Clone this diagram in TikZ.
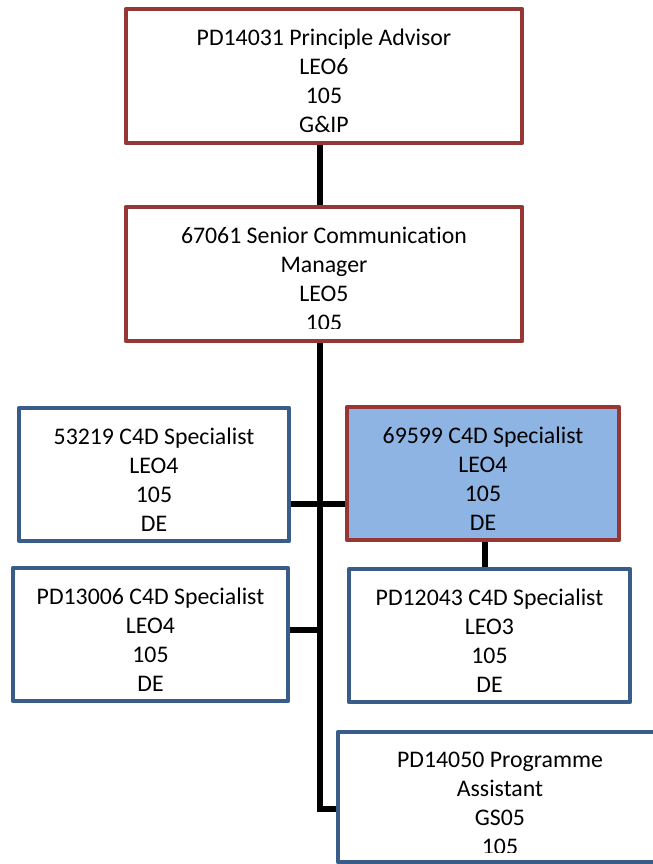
\documentclass[tikz,border=0pt]{standalone}
\usepackage{fontspec}
\setmainfont{Carlito}[Ligatures=NoCommon]
\usetikzlibrary{backgrounds}
\definecolor{boxred}{RGB}{150,55,53}
\definecolor{boxblue}{RGB}{56,93,138}
\definecolor{boxfill}{RGB}{141,180,226}
\tikzset{
  post/.style={draw, line width=4.5bp, fill=white, inner sep=0pt, line join=round},
  redpost/.style={post, draw=boxred},
  bluepost/.style={post, draw=boxblue},
  postlabel/.style={anchor=north, inner sep=0pt, align=center,
    font=\fontsize{23.8bp}{29bp}\selectfont},
  conn/.style={line width=6bp, draw=black},
}
\begin{document}
\begin{tikzpicture}[x=1bp, y=-1bp]
\useasboundingbox (0,0) rectangle (653,864);

% position boxes
\node[redpost, minimum width=396bp, minimum height=134bp] (A) at (324,76) {};
\node[redpost, minimum width=396bp, minimum height=134bp] (B) at (324,274) {};
\node[bluepost, minimum width=270bp, minimum height=133bp] (C) at (154,474.5) {};
\node[redpost, fill=boxfill, minimum width=272bp, minimum height=133bp] (D) at (483,473.5) {};
\node[bluepost, minimum width=275bp, minimum height=133bp] (E) at (150.5,634.5) {};
\node[bluepost, minimum width=281bp, minimum height=133bp] (F) at (489.5,635.5) {};
\node[bluepost, minimum width=324bp, minimum height=130bp] (G) at (500,797) {};

% reporting lines
\coordinate (tx) at (320,0);
\begin{scope}[on background layer]
  \draw[conn] (A.south -| tx) -- (B.north -| tx);
  \draw[conn] (B.south -| tx) |- ([yshift=-12bp]G.west);
  \draw[conn] ([yshift=-29bp]C.east) -- ([yshift=-29bp]C.east -| D.west);
  \draw[conn] ([yshift=4.5bp]E.east) -- ([yshift=4.5bp]E.east -| tx);
  \draw[conn] ([xshift=2bp]D.south) -- ([xshift=2bp]D.south |- F.north);
\end{scope}

% box texts
\node[postlabel] (At) at (324,25.3) {\strut PD14031 Principle Advisor\\LEO6\\105\\G\&IP};
\begin{scope}
  \clip (126,207) rectangle (522,328);
  \node[postlabel] (Bt) at (324,223.3) {\strut 67061 Senior Communication\\Manager\\LEO5\\105};
\end{scope}
\node[postlabel] (Ct) at (154,424.3) {\strut 53219 C4D Specialist\\LEO4\\105\\DE};
\node[postlabel] (Dt) at (483,423.3) {\strut 69599 C4D Specialist\\LEO4\\105\\DE};
\node[postlabel] (Et) at (150.5,584.3) {\strut PD13006 C4D Specialist\\LEO4\\105\\DE};
\node[postlabel] (Ft) at (489.5,585.3) {\strut PD12043 C4D Specialist\\LEO3\\105\\DE};
\begin{scope}
  \clip (338,732) rectangle (662,852);
  \node[postlabel] (Gt) at (500,746.7) {\strut PD14050 Programme\\Assistant\\GS05\\105};
\end{scope}
\end{tikzpicture}
\end{document}
